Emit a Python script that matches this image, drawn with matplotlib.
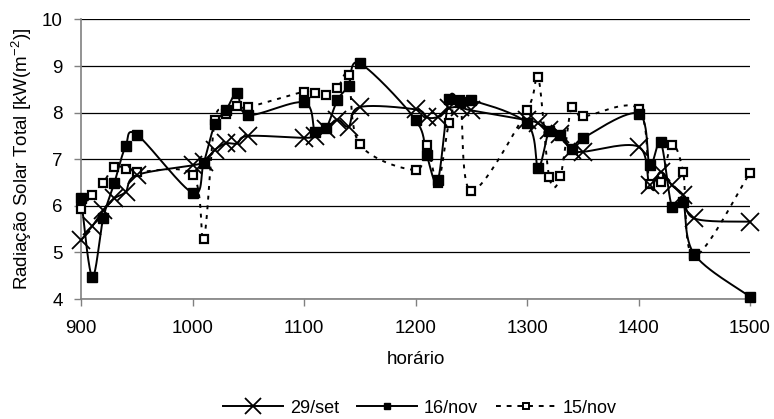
import numpy as np
import matplotlib
matplotlib.use("Agg")
import matplotlib.pyplot as plt
from matplotlib.lines import Line2D

plt.rcParams['font.family'] = ['Liberation Sans', 'DejaVu Sans']
plt.rcParams['mathtext.fontset'] = 'custom'
plt.rcParams['mathtext.rm'] = 'Liberation Sans'

# ---- data ----
hours = [900, 910, 920, 930, 940, 950, 1000, 1010, 1020, 1030, 1040, 1050,
         1100, 1110, 1120, 1130, 1140, 1150, 1200, 1210, 1220, 1230, 1240, 1250,
         1300, 1310, 1320, 1330, 1340, 1350, 1400, 1410, 1420, 1430, 1440, 1450, 1500]

set29 = [5.26, 5.56, 5.90, 6.16, 6.30, 6.66, 6.87, 6.94, 7.20, 7.34, 7.34, 7.50,
         7.46, 7.50, 7.64, 7.85, 7.70, 8.12, 8.07, 7.90, 7.91, 8.09, 8.12, 8.05,
         7.84, 7.77, 7.62, 7.55, 7.20, 7.16, 7.27, 6.44, 6.73, 6.44, 6.23, 5.73, 5.66]

nov16 = [6.17, 4.48, 5.74, 6.50, 7.28, 7.53, 6.28, 6.92, 7.75, 8.05, 8.42, 7.95,
         8.22, 7.58, 7.68, 8.27, 8.58, 9.06, 7.85, 7.09, 6.55, 8.30, 8.23, 8.27,
         7.77, 6.82, 7.61, 7.53, 7.21, 7.45, 7.98, 6.87, 7.36, 5.98, 6.09, 4.96, 4.05]

nov15 = [5.94, 6.24, 6.50, 6.84, 6.80, 6.73, 6.67, 5.28, 7.84, 7.97, 8.14, 8.12,
         8.45, 8.42, 8.38, 8.52, 8.80, 7.32, 6.77, 7.30, 6.50, 7.77, 8.28, 6.32,
         8.05, 8.77, 6.61, 6.64, 8.12, 7.92, 8.08, 6.47, 6.52, 7.30, 6.73, 4.92, 6.71]

labels = ['29/set', '16/nov', '15/nov']
xticks = [900, 1000, 1100, 1200, 1300, 1400, 1500]
yticks = [4, 5, 6, 7, 8, 9, 10]

W, H = 774, 419
fig = plt.figure(figsize=(W / 100, H / 100), dpi=100)
ax = fig.add_axes([81 / W, 1 - 299 / H, (750 - 81) / W, (299 - 19.5) / H])
ax.set_xlim(900, 1500)
ax.set_ylim(4, 10)

sx = (750 - 81) / 600.0
sy = (299 - 19.5) / 6.0


def smooth(x, y, n=30):
    P = np.column_stack([np.asarray(x, float) * sx, np.asarray(y, float) * sy])
    out = [P[0]]
    m = len(P)
    for i in range(m - 1):
        p0 = P[i - 1] if i > 0 else P[i]
        p1 = P[i]
        p2 = P[i + 1]
        p3 = P[i + 2] if i + 2 < m else P[i + 1]
        c1 = p1 + (p2 - p0) / 6.0
        c2 = p2 - (p3 - p1) / 6.0
        t = np.linspace(0, 1, n)[1:, None]
        seg = ((1 - t) ** 3) * p1 + 3 * ((1 - t) ** 2) * t * c1 + 3 * (1 - t) * t ** 2 * c2 + t ** 3 * p2
        out.extend(seg)
    out = np.array(out)
    return out[:, 0] / sx, out[:, 1] / sy


ax.yaxis.grid(True, color='black', lw=0.9)
ax.set_axisbelow(True)

# 15/nov dotted
xs, ys = smooth(hours, nov15)
ax.plot(xs, ys, color='black', lw=1.4, ls=(0, (2, 3)), clip_on=False, zorder=3)
ax.plot(hours, nov15, ls='none', marker='s', ms=6, mfc='white', mec='black', mew=1.6,
        clip_on=False, zorder=4)
# 16/nov
xs, ys = smooth(hours, nov16)
ax.plot(xs, ys, color='black', lw=1.4, clip_on=False, zorder=3)
ax.plot(hours, nov16, ls='none', marker='s', ms=6.5, mfc='black', mec='black',
        clip_on=False, zorder=4)
# 29/set
xs, ys = smooth(hours, set29)
ax.plot(xs, ys, color='black', lw=1.4, clip_on=False, zorder=3)
ax.plot(hours, set29, ls='none', marker='x', ms=13, mec='black', mew=1.3,
        clip_on=False, zorder=4)

ax.set_xticks(xticks)
ax.set_yticks(yticks)
ax.tick_params(axis='both', labelsize=13.5, direction='out', length=5, width=1,
               color='#808080')
ax.tick_params(axis='x', pad=10)
ax.tick_params(axis='y', pad=8)
for s in ['top', 'right']:
    ax.spines[s].set_visible(False)
for s in ['left', 'bottom']:
    ax.spines[s].set_color('#808080')
    ax.spines[s].set_linewidth(1.2)

ax.set_xlabel('horário', fontsize=13.5, labelpad=10)
ax.set_ylabel(r'Radiação Solar Total [kW(m$^{-2}$)]', fontsize=13.5, labelpad=6)

handles = [
    Line2D([], [], color='black', lw=1.4, marker='x', ms=11, mew=1.3),
    Line2D([], [], color='black', lw=1.4, marker='s', ms=5),
    Line2D([], [], color='black', lw=1.4, ls=(0, (2.5, 3)), marker='s', ms=5,
           mfc='white', mec='black', mew=1.4),
]
fig.legend(handles, labels, loc='center', bbox_to_anchor=(420 / W, 1 - 408 / H),
           ncol=3, frameon=False, fontsize=13, handlelength=3.3,
           handletextpad=0.4, columnspacing=1.0)

fig.savefig('out.png', dpi=100)
